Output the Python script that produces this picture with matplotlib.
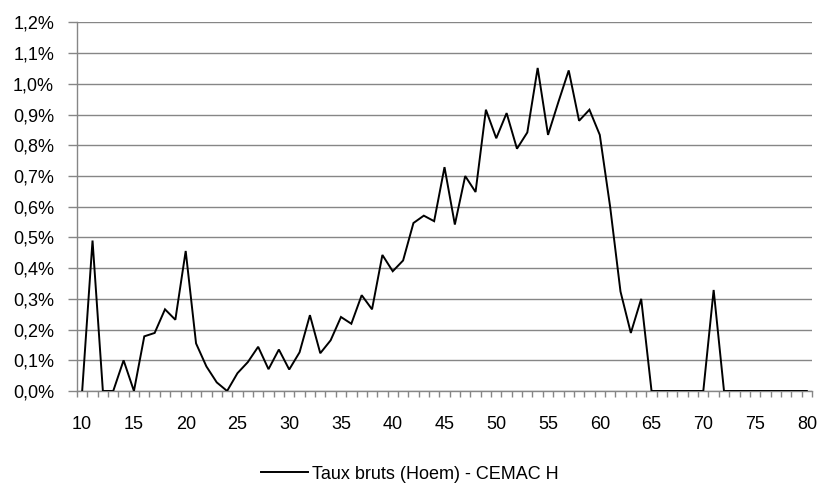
"""Crude rates (Hoem) by age - CEMAC H."""

import matplotlib.pyplot as plt
from matplotlib.ticker import FuncFormatter, FixedLocator

plt.rcParams['font.family'] = ['Liberation Sans', 'DejaVu Sans']

ages = list(range(10, 81))
# rates in percent
rates = [
    0.0, 0.49, 0.0, 0.0, 0.10, 0.0, 0.178, 0.189, 0.266, 0.232,   # 10-19
    0.456, 0.155, 0.08, 0.028, 0.0, 0.058, 0.094, 0.144, 0.071, 0.135,  # 20-29
    0.07, 0.126, 0.247, 0.123, 0.165, 0.241, 0.219, 0.312, 0.266, 0.443,  # 30-39
    0.39, 0.425, 0.547, 0.571, 0.553, 0.729, 0.542, 0.70, 0.648, 0.916,  # 40-49
    0.823, 0.905, 0.789, 0.842, 1.052, 0.834, 0.941, 1.044, 0.88, 0.916,  # 50-59
    0.834, 0.60, 0.324, 0.189, 0.30, 0.0, 0.0, 0.0, 0.0, 0.0,  # 60-69
    0.0, 0.329, 0.0, 0.0, 0.0, 0.0, 0.0, 0.0, 0.0, 0.0,  # 70-79
    0.0,  # 80
]
series_label = 'Taux bruts (Hoem) - CEMAC H'
y_ticks = [i / 10 for i in range(13)]
x_labels = list(range(10, 81, 5))

grey = '#868686'
fs = 13

fig = plt.figure(figsize=(8.21, 4.86), dpi=100)
ax = fig.add_axes([77 / 821, 1 - 391 / 486, 735 / 821, 368.5 / 486])

ax.plot(ages, rates, color='black', linewidth=1.4, label=series_label,
        solid_joinstyle='miter', zorder=3)

ax.set_xlim(9.5, 80.5)
ax.set_ylim(0, 1.2)

ax.set_yticks(y_ticks)
ax.yaxis.set_major_formatter(
    FuncFormatter(lambda v, _: f'{v:.1f}%'.replace('.', ',')))
ax.grid(axis='y', color=grey, linewidth=1.0, zorder=0)

ax.set_xticks(x_labels)
ax.xaxis.set_minor_locator(FixedLocator([a + 0.5 for a in range(9, 81)]))
ax.tick_params(axis='x', which='major', length=0, pad=18, labelsize=fs)
ax.tick_params(axis='x', which='minor', length=4, color=grey, width=1,
               direction='out')
ax.tick_params(axis='y', length=6.5, color=grey, width=1, labelsize=fs,
               pad=10)

for side in ('top', 'right'):
    ax.spines[side].set_visible(False)
for side in ('left', 'bottom'):
    ax.spines[side].set_color(grey)
    ax.spines[side].set_linewidth(1.0)

fig.legend(loc='center', bbox_to_anchor=(410 / 821, 1 - 474 / 486),
           frameon=False, fontsize=fs, handlelength=2.6, handletextpad=0.25,
           borderpad=0, borderaxespad=0)

fig.savefig('out.png', dpi=100)
